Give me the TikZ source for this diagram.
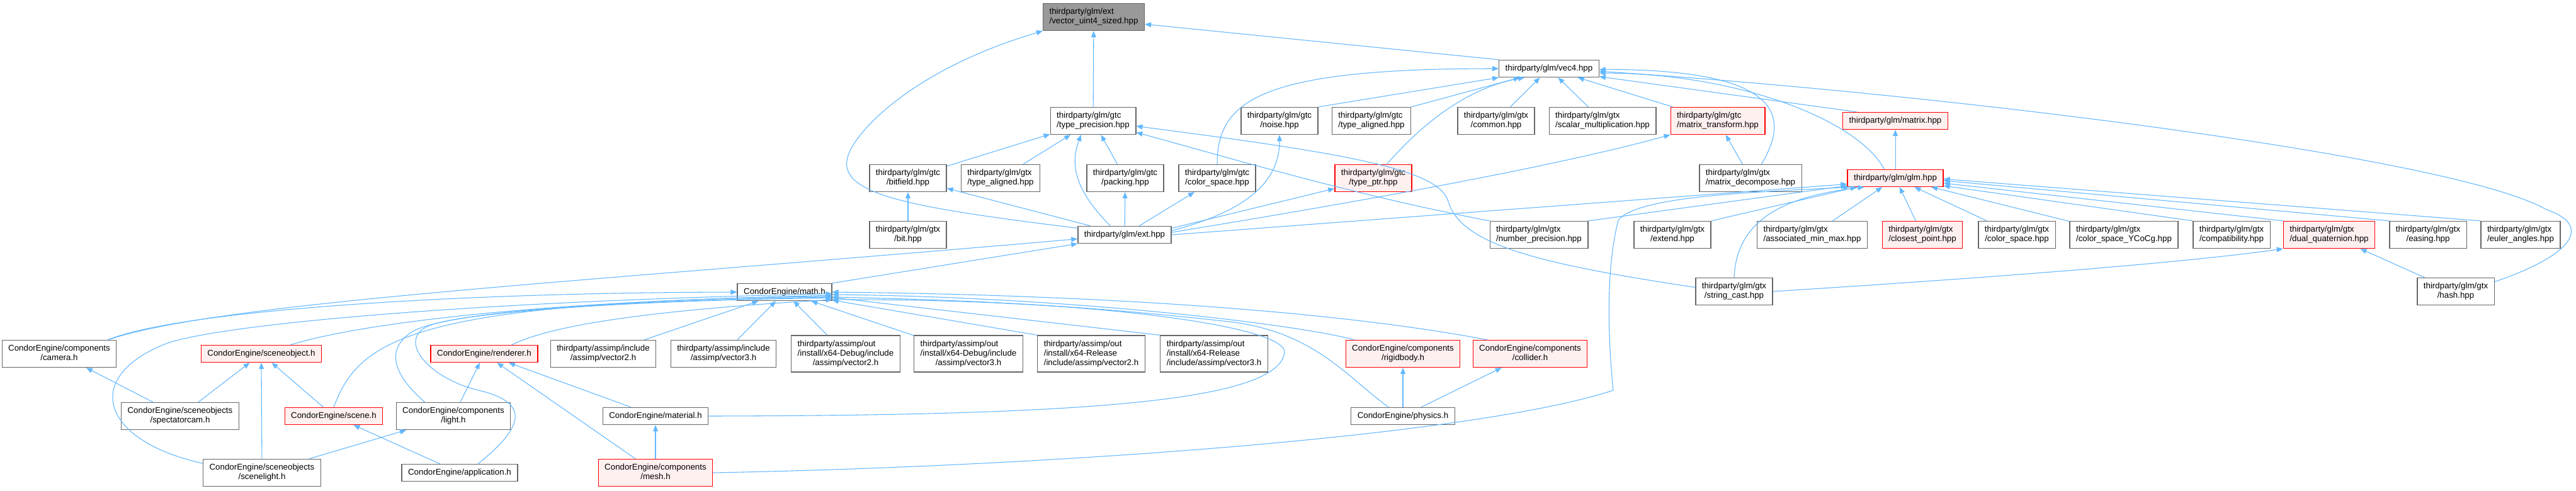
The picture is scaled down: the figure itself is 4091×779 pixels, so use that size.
\documentclass[tikz,border=0pt]{standalone}
\usepackage{fontspec}
\setmainfont{Liberation Sans}
\usetikzlibrary{arrows.meta}
\definecolor{inclBlue}{HTML}{63B8FF}
\definecolor{boxGray}{HTML}{666666}
\definecolor{mainFill}{HTML}{999999}
\definecolor{redFill}{HTML}{FFF0F0}
\newcommand{\dxfont}{\fontsize{10}{11.25}\selectfont}
\newcommand{\twol}[2]{\begin{tabular}{@{}l@{}}#1\\\multicolumn{1}{@{}c@{}}{#2}\end{tabular}}
\newcommand{\threel}[3]{\begin{tabular}{@{}l@{}}#1\\#2\\\multicolumn{1}{@{}c@{}}{#3}\end{tabular}}

\begin{document}
\begin{tikzpicture}[x=0.75pt, y=-0.75pt,
  hdr/.style={draw=boxGray, fill=white, line width=1pt, font=\dxfont,
    inner xsep=7.5pt, inner ysep=4.875pt, minimum height=20.25pt},
  hdrred/.style={hdr, draw=red, fill=redFill},
  hdrmain/.style={hdr, fill=mainFill},
  incl/.style={draw=inclBlue, line width=0.8pt, -{Triangle[length=7.5pt, width=6pt]}}]
  \fill[white] (0,0) rectangle (4091,779);
  \useasboundingbox (0,0) rectangle (4091,779);
  % glm side
  \node[hdrmain] (main) at (1737,27) {\twol{thirdparty/glm/ext}{/vector\_uint4\_sized.hpp}};
  \node[hdr] (vecfour) at (2460,109) {thirdparty/glm/vec4.hpp};
  \node[hdr] (typeprec) at (1736,192) {\twol{thirdparty/glm/gtc}{/type\_precision.hpp}};
  \node[hdr] (noise) at (2032,192) {\twol{thirdparty/glm/gtc}{/noise.hpp}};
  \node[hdr] (gtcalign) at (2178,192) {\twol{thirdparty/glm/gtc}{/type\_aligned.hpp}};
  \node[hdr] (common) at (2376,192) {\twol{thirdparty/glm/gtx}{/common.hpp}};
  \node[hdr] (scalarmul) at (2545,192) {\twol{thirdparty/glm/gtx}{/scalar\_multiplication.hpp}};
  \node[hdrred] (mattrans) at (2728,192) {\twol{thirdparty/glm/gtc}{/matrix\_transform.hpp}};
  \node[hdrred] (matrix) at (3010,192) {thirdparty/glm/matrix.hpp};
  \node[hdr] (bitfield) at (1442,283) {\twol{thirdparty/glm/gtc}{/bitfield.hpp}};
  \node[hdr] (gtxalign) at (1589,283) {\twol{thirdparty/glm/gtx}{/type\_aligned.hpp}};
  \node[hdr] (packing) at (1787,283) {\twol{thirdparty/glm/gtc}{/packing.hpp}};
  \node[hdr] (gtccolor) at (1933,283) {\twol{thirdparty/glm/gtc}{/color\_space.hpp}};
  \node[hdrred] (typeptr) at (2181,283) {\twol{thirdparty/glm/gtc}{/type\_ptr.hpp}};
  \node[hdr] (matdecomp) at (2780,283) {\twol{thirdparty/glm/gtx}{/matrix\_decompose.hpp}};
  \node[hdrred] (glm) at (3010,283) {thirdparty/glm/glm.hpp};
  \node[hdr] (gtxbit) at (1442,373) {\twol{thirdparty/glm/gtx}{/bit.hpp}};
  \node[hdr] (ext) at (1786,373) {thirdparty/glm/ext.hpp};
  \node[hdr] (numprec) at (2444,373) {\twol{thirdparty/glm/gtx}{/number\_precision.hpp}};
  \node[hdr] (extend) at (2656,373) {\twol{thirdparty/glm/gtx}{/extend.hpp}};
  \node[hdr] (assocmm) at (2878,373) {\twol{thirdparty/glm/gtx}{/associated\_min\_max.hpp}};
  \node[hdrred] (closest) at (3053,373) {\twol{thirdparty/glm/gtx}{/closest\_point.hpp}};
  \node[hdr] (gtxcolor) at (3203,373) {\twol{thirdparty/glm/gtx}{/color\_space.hpp}};
  \node[hdr] (ycocg) at (3373,373) {\twol{thirdparty/glm/gtx}{/color\_space\_YCoCg.hpp}};
  \node[hdr] (compat) at (3544,373) {\twol{thirdparty/glm/gtx}{/compatibility.hpp}};
  \node[hdrred] (dualq) at (3699,373) {\twol{thirdparty/glm/gtx}{/dual\_quaternion.hpp}};
  \node[hdr] (easing) at (3856,373) {\twol{thirdparty/glm/gtx}{/easing.hpp}};
  \node[hdr] (euler) at (4003,373) {\twol{thirdparty/glm/gtx}{/euler\_angles.hpp}};
  \node[hdr] (strcast) at (2754,463) {\twol{thirdparty/glm/gtx}{/string\_cast.hpp}};
  \node[hdr] (hash) at (3900,463) {\twol{thirdparty/glm/gtx}{/hash.hpp}};
  % engine side
  \node[hdr] (math) at (1246,464) {CondorEngine/math.h};
  \node[hdr] (camera) at (94,562) {\twol{CondorEngine/components}{/camera.h}};
  \node[hdrred] (sceneobj) at (415,562) {CondorEngine/sceneobject.h};
  \node[hdrred] (renderer) at (769,562) {CondorEngine/renderer.h};
  \node[hdr] (asinctwo) at (958,562) {\twol{thirdparty/assimp/include}{/assimp/vector2.h}};
  \node[hdr] (asincthree) at (1149,562) {\twol{thirdparty/assimp/include}{/assimp/vector3.h}};
  \node[hdr] (dbgtwo) at (1343,562) {\threel{thirdparty/assimp/out}{/install/x64-Debug/include}{/assimp/vector2.h}};
  \node[hdr] (dbgthree) at (1538,562) {\threel{thirdparty/assimp/out}{/install/x64-Debug/include}{/assimp/vector3.h}};
  \node[hdr] (reltwo) at (1733,562) {\threel{thirdparty/assimp/out}{/install/x64-Release}{/include/assimp/vector2.h}};
  \node[hdr] (relthree) at (1928,562) {\threel{thirdparty/assimp/out}{/install/x64-Release}{/include/assimp/vector3.h}};
  \node[hdrred] (rigidbody) at (2228,562) {\twol{CondorEngine/components}{/rigidbody.h}};
  \node[hdrred] (collider) at (2430,562) {\twol{CondorEngine/components}{/collider.h}};
  \node[hdr] (spectator) at (286,661) {\twol{CondorEngine/sceneobjects}{/spectatorcam.h}};
  \node[hdrred] (scene) at (530,661) {CondorEngine/scene.h};
  \node[hdr] (light) at (720,661) {\twol{CondorEngine/components}{/light.h}};
  \node[hdr] (material) at (1041,661) {CondorEngine/material.h};
  \node[hdr] (physics) at (2228,661) {CondorEngine/physics.h};
  \node[hdr] (scenelight) at (416,751) {\twol{CondorEngine/sceneobjects}{/scenelight.h}};
  \node[hdr] (application) at (730,751) {CondorEngine/application.h};
  \node[hdrred] (mesh) at (1041,751) {\twol{CondorEngine/components}{/mesh.h}};
  % into the sized vector header
  \draw[incl] (typeprec) -- (main);
  \draw[incl] (ext.172) .. controls (1450,330) and (1330,310) .. (1346,250)
    .. controls (1356,210) and (1450,110) .. (main.south west);
  \draw[incl] (vecfour.north west) -- (main.-8);
  % into vec4
  \draw[incl] (gtccolor.north) .. controls (1933,160) and (2000,109) .. (vecfour.west);
  \draw[incl] (noise.north east) -- (vecfour.south west);
  \draw[incl] (gtcalign.north east) -- (vecfour.-163);
  \draw[incl] (typeptr.46) .. controls (2260,195) and (2330,140) .. (vecfour.-160);
  \foreach \n in {common,scalarmul,mattrans}
    \draw[incl] (\n) -- (vecfour);
  \draw[incl] (matdecomp.52) .. controls (2840,190) and (2840,110) .. (vecfour.-1);
  \draw[incl] (glm.141) .. controls (2950,190) and (2760,117) .. (vecfour.-5);
  \draw[incl] (matrix.167) -- (vecfour.-9);
  \draw[incl] (hash.14) .. controls (4100,400) and (4110,355) .. (4044,333)
    .. controls (3900,250) and (3100,150) .. (vecfour.-3);
  % into type_precision
  \foreach \n in {bitfield,gtxalign,packing}
    \draw[incl] (\n) -- (typeprec);
  \draw[incl] (ext.148) .. controls (1705,300) and (1700,260) .. (typeprec.-131);
  \draw[incl] (numprec.north west) .. controls (2150,310) and (1950,250) .. (typeprec.-15);
  \draw[incl] (strcast.174) .. controls (2450,420) and (2320,390) .. (2300,320)
    .. controls (2285,270) and (2150,245) .. (typeprec.-7);
  % out of ext.hpp
  \foreach \n in {bitfield,packing,gtccolor}
    \draw[incl] (ext) -- (\n);
  \draw[incl] (ext.5) .. controls (1960,340) and (2032,300) .. (noise.south);
  \draw[incl] (ext.8) -- (typeptr.-165);
  \draw[incl] (ext.3) .. controls (2100,330) and (2450,270) .. (mattrans.south west);
  \draw[incl] (ext.east) -- (glm.-173);
  % into glm.hpp
  \foreach \n in {assocmm,closest,gtxcolor,ycocg}
    \draw[incl] (\n) -- (glm);
  \draw[incl] (numprec.north east) -- (glm.-171);
  \draw[incl] (extend.north east) -- (glm.-167);
  \draw[incl] (strcast.north) .. controls (2758,340) and (2850,310) .. (glm.-164);
  \draw[incl] (mesh.east) .. controls (1700,740) and (2350,690) .. (2562,620)
    .. controls (2552,520) and (2552,420) .. (2570,350)
    .. controls (2600,310) and (2800,305) .. (glm.-169);
  \foreach \n/\a in {compat/-9,dualq/-6,easing/-3,euler/-1}
    \draw[incl] (\n.north west) -- (glm.\a);
  \draw[incl] (glm) -- (matrix);
  \draw[incl] (matdecomp) -- (mattrans);
  \draw[incl] (gtxbit) -- (bitfield);
  \draw[incl] (hash) -- (dualq);
  \draw[incl] (strcast.east) .. controls (3100,445) and (3450,420) .. (dualq.south west);
  % math.h and ext.hpp
  \draw[incl] (math.north east) -- (ext.south west);
  \draw[incl] (camera.16) .. controls (350,480) and (900,450) .. (ext.-175);
  \draw[incl] (camera.16) .. controls (280,495) and (700,465) .. (math.west);
  \draw[incl] (scenelight.171) .. controls (160,700) and (130,600) .. (261,547)
    .. controls (330,519) and (700,480) .. (math.-2);
  \draw[incl] (sceneobj.17) .. controls (550,520) and (800,480) .. (math.-4);
  \draw[incl] (scene.north) .. controls (570,540) and (650,480) .. (math.-5);
  \draw[incl] (light.154) .. controls (630,600) and (610,560) .. (650,530)
    .. controls (690,500) and (900,480) .. (math.-6);
  \draw[incl] (application.26) .. controls (830,680) and (845,640) .. (760,620)
    .. controls (680,601) and (630,540) .. (680,518)
    .. controls (720,500) and (950,478) .. (math.-7);
  \draw[incl] (renderer.18) .. controls (870,520) and (1000,495) .. (math.-9);
  \foreach \n in {asinctwo,asincthree,dbgtwo,dbgthree}
    \draw[incl] (\n) -- (math);
  \draw[incl] (reltwo.north west) -- (math);
  \draw[incl] (relthree.north west) -- (math);
  \draw[incl] (collider.162) .. controls (2100,490) and (1700,468) .. (math.east);
  \draw[incl] (rigidbody.164) .. controls (2060,515) and (1700,472) .. (math.-3);
  \draw[incl] (physics.148) .. controls (2140,600) and (2090,530) .. (1960,512)
    .. controls (1700,482) and (1500,476) .. (math.-6);
  \draw[incl] (material.east) .. controls (1700,660) and (2030,640) .. (2040,560)
    .. controls (2045,520) and (1750,475) .. (math.-9);
  % engine headers
  \foreach \n in {light,mesh,material}
    \draw[incl] (\n) -- (renderer);
  \foreach \n in {spectator,scenelight,scene}
    \draw[incl] (\n) -- (sceneobj);
  \draw[incl] (spectator) -- (camera);
  \draw[incl] (scenelight) -- (light);
  \draw[incl] (application) -- (scene);
  \draw[incl] (mesh) -- (material);
  \draw[incl] (physics) -- (rigidbody);
  \draw[incl] (physics) -- (collider);
\end{tikzpicture}
\end{document}
